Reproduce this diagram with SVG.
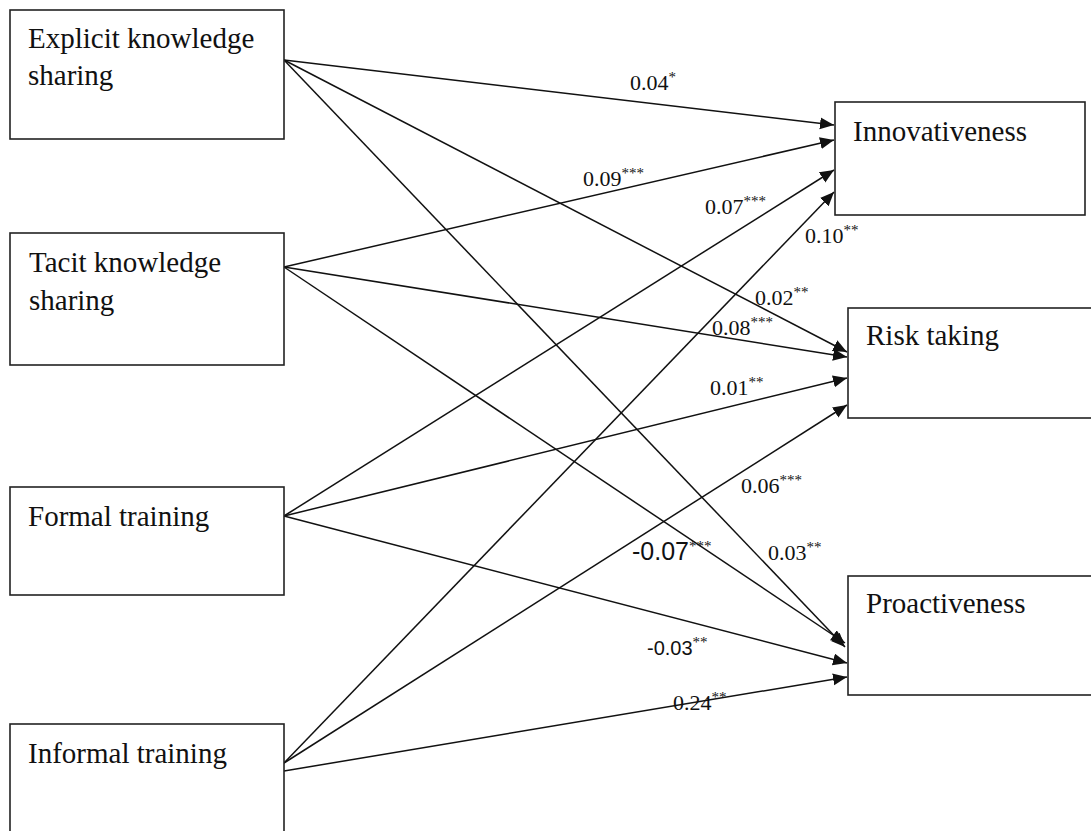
<svg xmlns="http://www.w3.org/2000/svg" width="1091" height="831" viewBox="0 0 1091 831">
<style>
.box{fill:#fff;stroke:#222;stroke-width:1.6}
.bt{font-family:"Liberation Serif","Times New Roman",serif;font-size:29px;fill:#111}
.lb{font-family:"Liberation Serif","Times New Roman",serif;font-size:22px;fill:#111}
.ls{font-family:"Liberation Sans",Arial,sans-serif;fill:#111}
.st{font-size:15px}
.cn{stroke:#111;stroke-width:1.5;fill:none;marker-end:url(#ah)}
</style>
<defs>
<marker id="ah" markerUnits="userSpaceOnUse" markerWidth="15" markerHeight="13" refX="14" refY="6" orient="auto">
<path d="M0,0 L14,6 L0,12 z" fill="#111"/>
</marker>
</defs>
<rect width="1091" height="831" fill="#fff"/>
<g id="connectors">
<line class="cn" x1="284" y1="60" x2="834" y2="125"/>
<line class="cn" x1="284" y1="60" x2="847" y2="352"/>
<line class="cn" x1="284" y1="60" x2="845" y2="647"/>
<line class="cn" x1="284" y1="267" x2="834" y2="140"/>
<line class="cn" x1="284" y1="267" x2="847" y2="357"/>
<line class="cn" x1="284" y1="267" x2="845" y2="643"/>
<line class="cn" x1="284" y1="516" x2="834" y2="170"/>
<line class="cn" x1="284" y1="516" x2="847" y2="378"/>
<line class="cn" x1="284" y1="516" x2="847" y2="663"/>
<line class="cn" x1="284" y1="763" x2="834" y2="192"/>
<line class="cn" x1="284" y1="763" x2="847" y2="405"/>
<line class="cn" x1="284" y1="771" x2="847" y2="677"/>
</g>
<g id="labels">
<text class="lb" x="630" y="90">0.04<tspan class="st" dy="-8">*</tspan></text>
<text class="lb" x="583" y="186">0.09<tspan class="st" dy="-8">***</tspan></text>
<text class="lb" x="705" y="214">0.07<tspan class="st" dy="-8">***</tspan></text>
<text class="lb" x="805" y="243">0.10<tspan class="st" dy="-8">**</tspan></text>
<text class="lb" x="755" y="305">0.02<tspan class="st" dy="-8">**</tspan></text>
<text class="lb" x="712" y="335">0.08<tspan class="st" dy="-8">***</tspan></text>
<text class="lb" x="710" y="395">0.01<tspan class="st" dy="-8">**</tspan></text>
<text class="lb" x="741" y="493">0.06<tspan class="st" dy="-8">***</tspan></text>
<text class="ls" x="632" y="560" font-size="25">-0.07<tspan class="lb st" dy="-9">***</tspan></text>
<text class="lb" x="768" y="560">0.03<tspan class="st" dy="-8">**</tspan></text>
<text class="ls" x="647" y="655" font-size="20">-0.03<tspan class="lb st" dy="-8">**</tspan></text>
<text class="lb" x="673" y="710">0.24<tspan class="st" dy="-8">**</tspan></text>
</g>
<g id="explicit">
<rect class="box" x="10" y="10" width="274" height="129"/>
<text class="bt" x="28" y="48">Explicit knowledge</text>
<text class="bt" x="28" y="85">sharing</text>
</g>
<g id="tacit">
<rect class="box" x="10" y="233" width="274" height="132"/>
<text class="bt" x="29" y="272">Tacit knowledge</text>
<text class="bt" x="29" y="310">sharing</text>
</g>
<g id="formal">
<rect class="box" x="10" y="487" width="274" height="108"/>
<text class="bt" x="28" y="526">Formal training</text>
</g>
<g id="informal">
<rect class="box" x="10" y="724" width="274" height="120"/>
<text class="bt" x="28" y="763">Informal training</text>
</g>
<g id="innovativeness">
<rect class="box" x="835" y="102" width="250" height="113"/>
<text class="bt" x="853" y="141">Innovativeness</text>
</g>
<g id="risk">
<rect class="box" x="848" y="308" width="250" height="110"/>
<text class="bt" x="866" y="345">Risk taking</text>
</g>
<g id="proactiveness">
<rect class="box" x="848" y="576" width="250" height="119"/>
<text class="bt" x="866" y="613">Proactiveness</text>
</g>
</svg>
